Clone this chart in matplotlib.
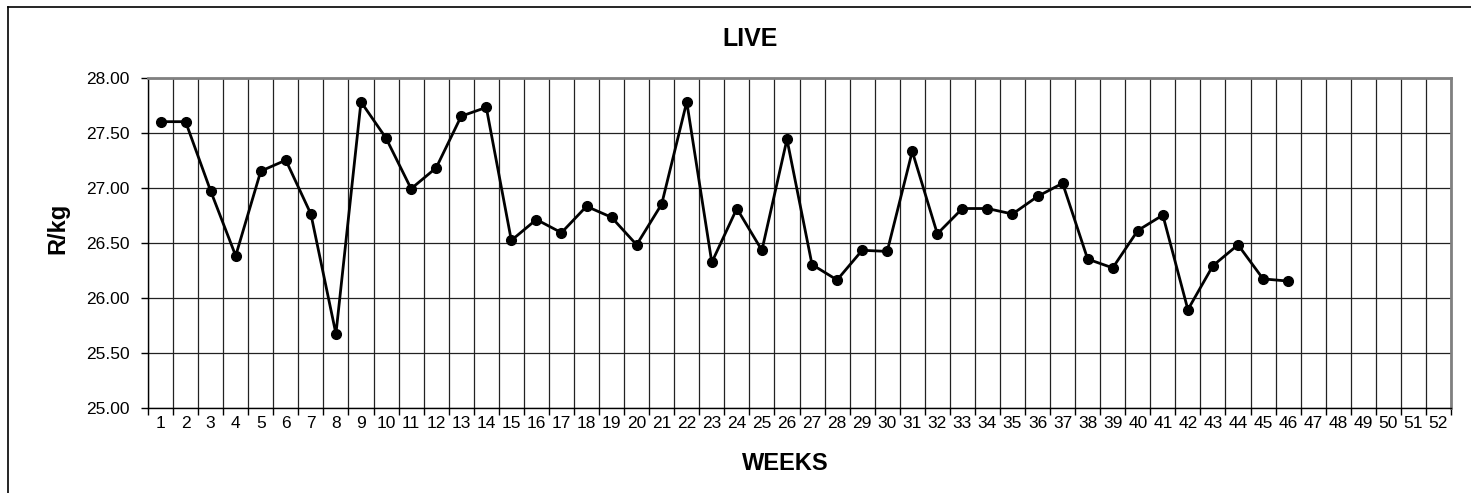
import numpy as np
import matplotlib.pyplot as plt
from matplotlib.lines import Line2D

plt.rcParams['font.family'] = ['Liberation Sans', 'DejaVu Sans']

weeks = list(range(1, 53))
live = [27.60, 27.60, 26.97, 26.38, 27.15, 27.25, 26.76, 25.67, 27.78, 27.45,
        26.99, 27.18, 27.65, 27.73, 26.52, 26.71, 26.59, 26.83, 26.73, 26.48,
        26.85, 27.78, 26.32, 26.81, 26.43, 27.44, 26.30, 26.16, 26.43, 26.42,
        27.33, 26.58, 26.81, 26.81, 26.76, 26.92, 27.04, 26.35, 26.27, 26.61,
        26.75, 25.89, 26.29, 26.48, 26.17, 26.15]
yticks = [25.0, 25.5, 26.0, 26.5, 27.0, 27.5, 28.0]

W, H = 1471, 493
fig = plt.figure(figsize=(W / 100, H / 100), dpi=100)
ax = fig.add_axes([148 / W, 1 - 407.5 / H, (1451 - 148) / W, (407.5 - 77.7) / H])

ax.plot(weeks[:len(live)], live, '-o', color='black', lw=2, ms=7, zorder=3)

ax.set_xlim(0.5, 52.5)
ax.set_ylim(25, 28)
ax.set_yticks(yticks)
ax.set_yticklabels(['%.2f' % v for v in yticks], fontsize=12.5)
ax.set_xticks(weeks)
ax.set_xticklabels([str(w) for w in weeks], fontsize=12.5)
ax.set_xticks(np.arange(0.5, 53, 1), minor=True)
ax.tick_params(axis='x', which='major', length=0, pad=6)
ax.tick_params(axis='x', which='minor', length=5, width=1, direction='out')
ax.tick_params(axis='y', length=5, width=1, direction='out', pad=8)

ax.grid(True, which='minor', axis='x', color='#222222', lw=0.9)
ax.grid(True, which='major', axis='y', color='#222222', lw=0.9)
ax.set_axisbelow(True)

for s in ['top', 'right']:
    ax.spines[s].set_color('#808080')
    ax.spines[s].set_linewidth(2)
for s in ['left', 'bottom']:
    ax.spines[s].set_color('black')
    ax.spines[s].set_linewidth(1)

fig.text(750 / W, 1 - 39 / H, 'LIVE', ha='center', va='center',
         fontsize=18, fontweight='bold')
fig.text(785 / W, 1 - 463 / H, 'WEEKS', ha='center', va='center',
         fontsize=17, fontweight='bold')
fig.text(58 / W, 1 - 228 / H, 'R/kg', ha='center', va='center',
         rotation=90, fontsize=17, fontweight='bold')

# outer chart frame (runs off the right and bottom edge)
fig.add_artist(Line2D([7.5 / W, 7.5 / W], [0, 1 - 6.5 / H], color='black', lw=1.2))
fig.add_artist(Line2D([7.5 / W, 1], [1 - 6.5 / H, 1 - 6.5 / H], color='black', lw=1.2))

fig.savefig('out.png', dpi=100)
